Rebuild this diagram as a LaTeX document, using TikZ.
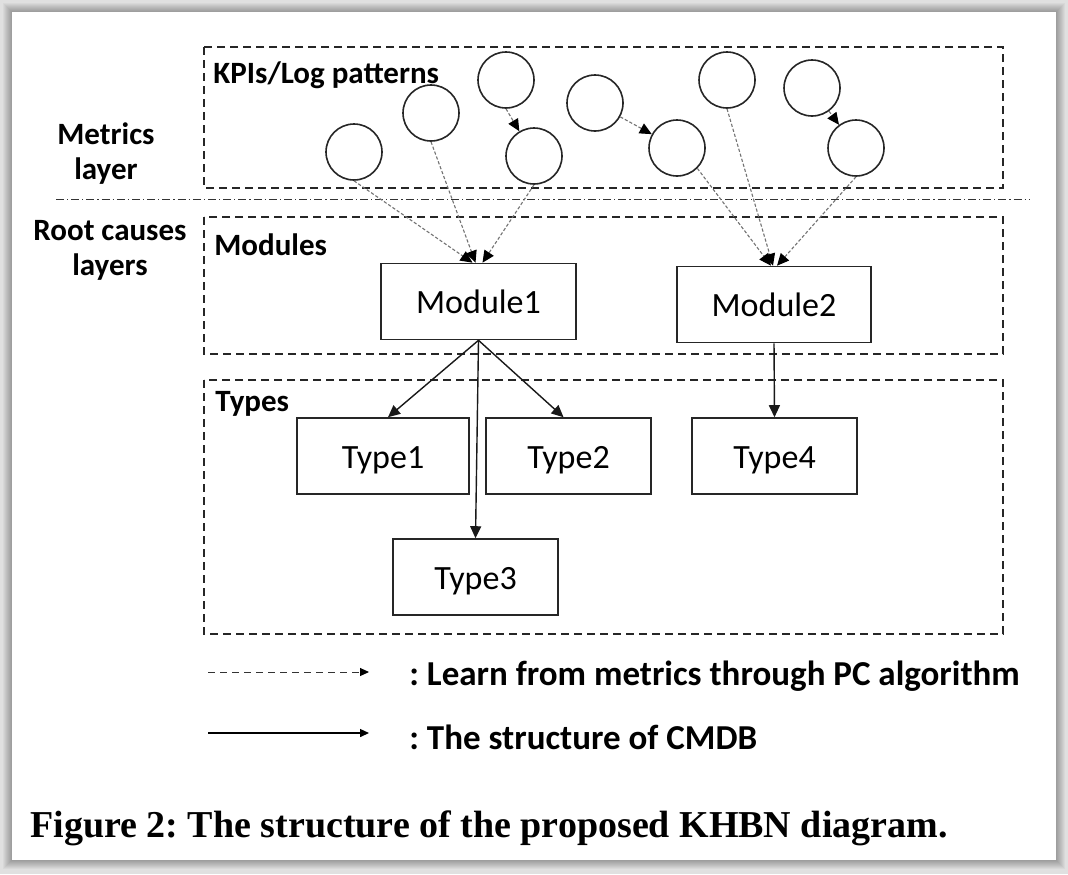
\documentclass[tikz,border=0pt]{standalone}
\usepackage{fontspec}
\setmainfont{Carlito}
\newfontfamily\captionfont{Liberation Serif}
\usetikzlibrary{arrows.meta, positioning}
\frenchspacing

\tikzset{
  metric/.style = {circle, draw=black!85, line width=0.8pt, minimum size=28pt, inner sep=0pt},
  unit/.style = {rectangle, draw=black!85, line width=0.8pt, minimum height=38pt, inner sep=0pt,
    text height=12pt, text depth=0pt, font=\fontsize{17}{20}\selectfont},
  layerbox/.style = {draw=black!85, line width=0.8pt, dash pattern=on 4pt off 2.5pt},
  learnt/.style = {draw=black!55, line width=0.55pt, dash pattern=on 1.6pt off 1pt,
    -{Triangle[length=6pt, width=5.5pt, color=black]}},
  cmdb/.style = {draw=black!90, line width=0.7pt, -{Triangle[length=6pt, width=5.5pt]}},
  tag/.style = {font=\fontsize{15.5}{17.5}\selectfont\bfseries, inner sep=0pt},
  legendtxt/.style = {font=\fontsize{17.5}{20}\selectfont\bfseries, inner sep=0pt, anchor=west},
}

\begin{document}
\begin{tikzpicture}[x=0.5pt, y=-0.5pt]

% page and its shadow
\fill[black!12] (0,0) rectangle (1068,874);
\foreach \s in {1,...,9}
  \fill[black, opacity=0.035] (12-\s,12-\s) rectangle (1056+\s,860+\s);
\fill[white] (12,12) rectangle (1056,860);
\useasboundingbox (0,0) rectangle (1068,874);

% layers
\draw[layerbox] (204,47) rectangle (1003,188);
\draw[layerbox] (204,217) rectangle (1003,354);
\draw[layerbox] (204,380) rectangle (1003,634);
\draw[black!80, line width=0.5pt, dash pattern=on 4pt off 1.5pt on 0.6pt off 1.5pt] (56,199) -- (1029,199);

\node (metricslbl) [tag, align=center] at (106,154) {Metrics\\layer};
\node (rootlbl) [tag, align=center] at (110,250) {Root causes\\layers};
\node (kpilbl) [tag, anchor=west] at (213,75) {KPIs/Log patterns};
\node (modlbl) [tag, anchor=west] at (214,245) {Modules};
\node (typelbl) [tag, anchor=west] at (215,404) {Types};

% metrics
\node (c1) [metric] at (354,152) {};
\node (c2) [metric] at (431,113) {};
\node (c3) [metric] at (506,80) {};
\node (c4) [metric] at (534,156) {};
\node (c5) [metric] at (595,103) {};
\node (c6) [metric] at (677,148) {};
\node (c7) [metric] at (727,80) {};
\node (c8) [metric] at (812,88) {};
\node (c9) [metric] at (856,148) {};

% modules and types
\node (m1) [unit, minimum width=97.5pt] at (478.5,301.5) {Module1};
\node (m2) [unit, minimum width=97pt] at (774,304.5) {Module2};
\node (t1) [unit, minimum width=86pt] at (383,456) {Type1};
\node (t2) [unit, minimum width=82.5pt] at (568.5,456) {Type2};
\node (t3) [unit, minimum width=82.5pt] at (475.5,577) {Type3};
\node (t4) [unit, minimum width=82.5pt] at (774.5,456) {Type4};

\draw[learnt] (c3.south) -- (c4);
\draw[learnt] (c5) -- (c6);
\draw[learnt] (c8) -- (c9);
\draw[learnt] (c1.south) -- ([xshift=-3pt]m1.north);
\draw[learnt] (c2.south) -- ([xshift=-1.5pt]m1.north);
\draw[learnt] (c4.south) -- ([xshift=2pt]m1.north);
\draw[learnt] (c6.south east) -- ([xshift=-1.5pt]m2.north);
\draw[learnt] (c7.south) -- ([xshift=-0.5pt]m2.north);
\draw[learnt] (c9.south) -- ([xshift=1.5pt]m2.north);

\draw[cmdb] (m1.south) -- ([xshift=2.5pt]t1.north);
\draw[cmdb] (m1.south) -- ([xshift=-2.5pt]t2.north);
\draw[cmdb] (m1.south) -- (t3.north);
\draw[cmdb] (m2.south) -- (t4.north);

% legend
\coordinate (la) at (208,672);
\coordinate (lb) at (369,672);
\coordinate (sa) at (208,733);
\coordinate (sb) at (369,733);
\draw[black!80, line width=0.5pt, dash pattern=on 3.5pt off 2.5pt,
  -{Triangle[length=4.5pt, width=4pt, color=black]}] (la) -- (lb);
\draw[black, line width=0.7pt, -{Triangle[length=4.5pt, width=4pt]}] (sa) -- (sb);
\node (learntxt) [legendtxt, right=20pt of lb, yshift=-2pt] {: Learn from metrics through PC algorithm};
\node (cmdbtxt) [legendtxt, right=20pt of sb, yshift=-2pt] {: The structure of CMDB};

\node (caption) [anchor=west, inner sep=0pt] at (30,828)
  {\captionfont\bfseries\fontsize{19}{23}\selectfont Figure 2: The structure of the proposed KHBN diagram.};
\end{tikzpicture}
\end{document}
